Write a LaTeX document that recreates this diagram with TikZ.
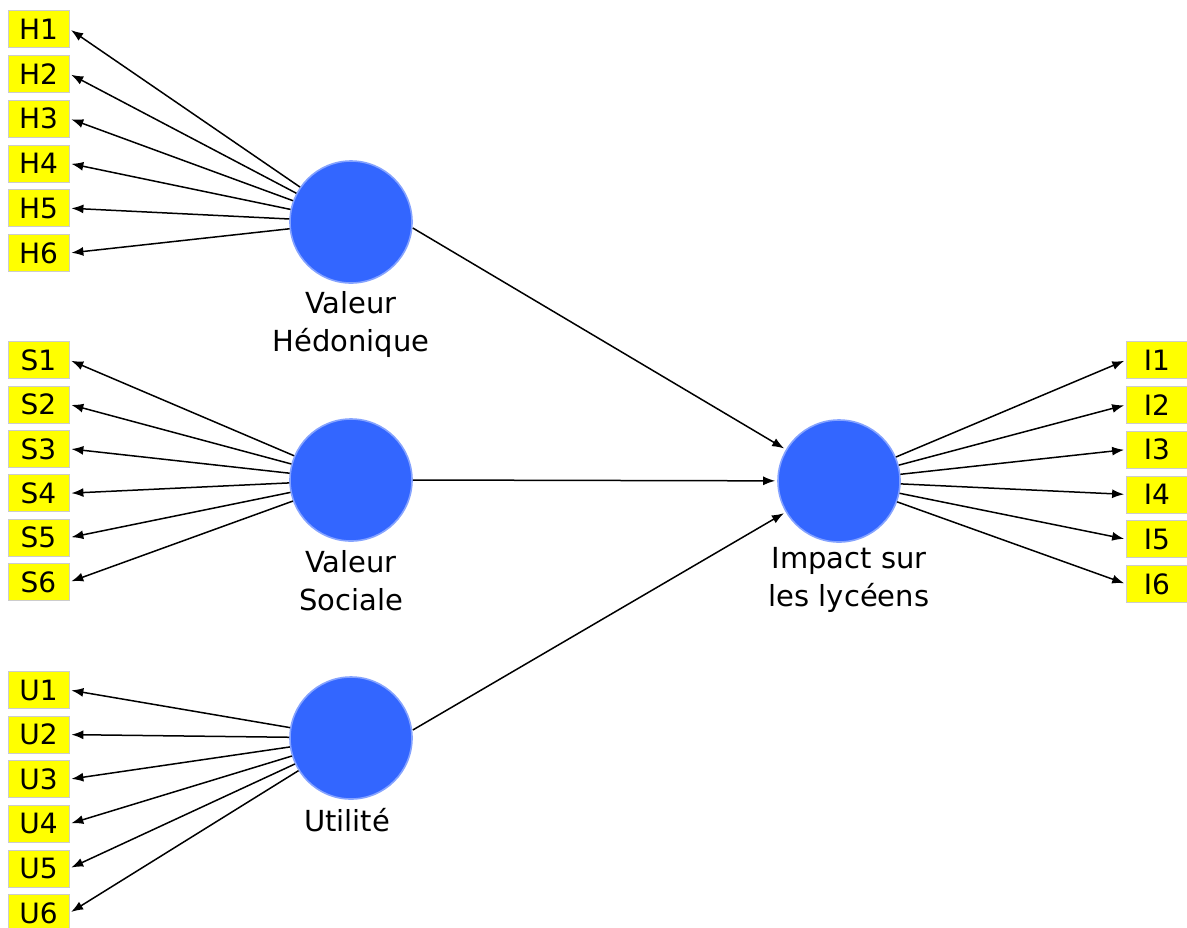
\documentclass[tikz,border=0pt]{standalone}
\usepackage{fontspec}
\setmainfont{DejaVu Sans}
\usetikzlibrary{arrows.meta}
\definecolor{latentBlue}{RGB}{51,102,255}
\definecolor{itemYellow}{RGB}{255,255,0}

\begin{document}
\begin{tikzpicture}[x=0.5pt, y=-0.5pt,
    item/.style={draw=black!20, fill=itemYellow, minimum width=30.5pt, minimum height=18.5pt,
        inner sep=0pt, font=\fontsize{14}{16}\selectfont},
    latent/.style={circle, fill=latentBlue, draw=latentBlue!60, line width=0.8pt, minimum size=61pt, inner sep=0pt},
    caption/.style={align=center, font=\fontsize{14.5}{19}\selectfont},
    load/.style={-{Latex[length=6pt,width=4.5pt]}, line width=0.75pt, shorten >=1pt}]
    \useasboundingbox (0,0) rectangle (1187,927);

    % Latent variables
    \node[latent] (hedo) at (351,222) {};
    \node[latent] (soc) at (351,480) {};
    \node[latent] (util) at (351,738) {};
    \node[latent] (impact) at (839,481) {};

    % Captions under the circles
    \node[caption] (hedoCap) at (351,324) {Valeur\\Hédonique};
    \node[caption] (socCap) at (351,581) {Valeur\\Sociale};
    \node[caption] (utilCap) at (347,820) {Utilité};
    \node[caption] (impactCap) at (849,580) {Impact sur\\les lycéens};

    % Indicator boxes
    \foreach \i in {1,...,6} {
        \node[item] (H\i) at (38.5, {29+44.8*(\i-1)}) {H\i};
        \node[item] (S\i) at (38.5, {360+44.4*(\i-1)}) {S\i};
        \node[item] (U\i) at (38.5, {690+44.6*(\i-1)}) {U\i};
        \node[item] (I\i) at (1157, {360+44.8*(\i-1)}) {I\i};
    }

    % Loadings
    \foreach \i in {1,...,6} {
        \draw[load] (hedo) -- (H\i.east);
        \draw[load] (soc) -- (S\i.east);
        \draw[load] (util) -- (U\i.east);
        \draw[load] (impact) -- (I\i.west);
    }

    % Paths to the impact
    \draw[load] ([yshift=-3pt]hedo.east) -- (impact);
    \draw[load] (soc.east) -- (impact);
    \draw[load] ([yshift=4pt]util.east) -- (impact);
\end{tikzpicture}
\end{document}
